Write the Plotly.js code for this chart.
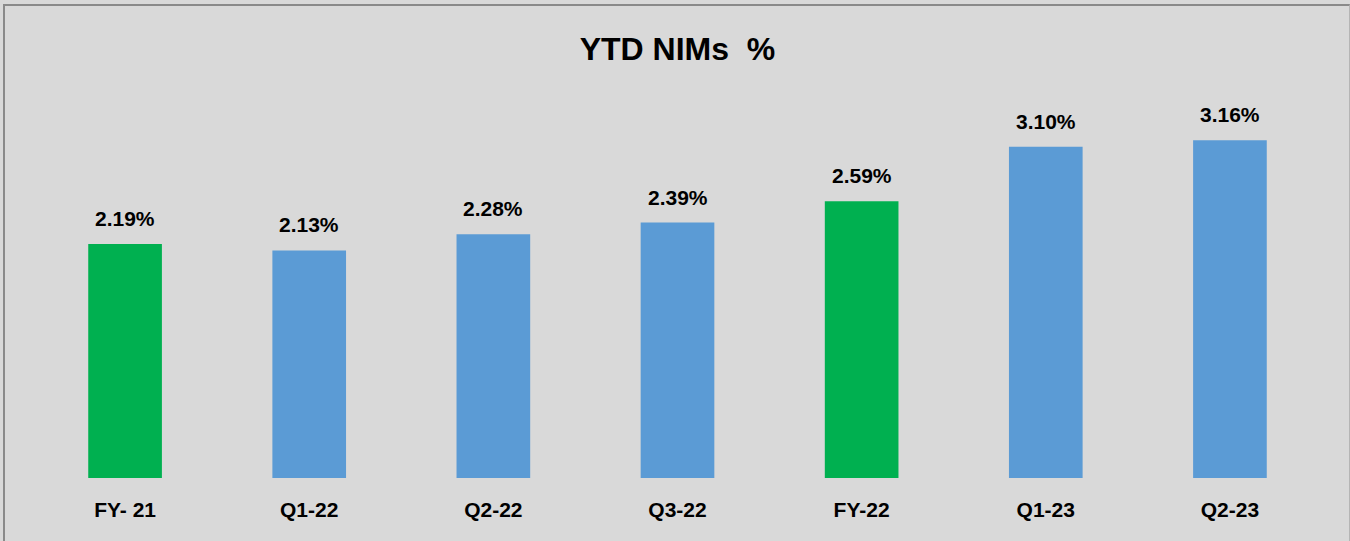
<!DOCTYPE html>
<html>
<head>
<meta charset="utf-8">
<script src="https://cdn.plot.ly/plotly-3.0.1.min.js"></script>
<style>
  html, body { margin: 0; padding: 0; background: #d9d9d9; }
  #wrap { position: relative; width: 1350px; height: 541px; overflow: hidden; }
  #chart { position: absolute; left: 0; top: 0; width: 1350px; height: 541px; }
  #frame { position: absolute; left: 3px; top: 4px; width: 1344px; height: 545px;
           border-top: 2px solid #8a8a8a; border-left: 2px solid #8a8a8a; border-right: 1px solid #b5b5b5;
           pointer-events: none; }
</style>
</head>
<body>
<div id="wrap">
  <div id="chart"></div>
  <div id="frame"></div>
</div>
<script>
const categories = ["FY- 21", "Q1-22", "Q2-22", "Q3-22", "FY-22", "Q1-23", "Q2-23"];
const nimValues = [2.19, 2.13, 2.28, 2.39, 2.59, 3.10, 3.16];
const valueLabels = ["2.19%", "2.13%", "2.28%", "2.39%", "2.59%", "3.10%", "3.16%"];
const isFullYear = [true, false, false, false, true, false, false];

const GREEN = "#00b050";
const BLUE = "#5b9bd5";
const FONT = "Liberation Sans, Arial, sans-serif";

const trace = {
  type: "bar",
  x: categories,
  y: nimValues,
  marker: { color: isFullYear.map(f => f ? GREEN : BLUE) },
  hoverinfo: "skip"
};

const annotations = categories.map((c, i) => ({
  x: c, y: nimValues[i], xref: "x", yref: "y",
  text: "<b>" + valueLabels[i] + "</b>",
  showarrow: false, yanchor: "bottom", yshift: 12,
  font: { family: FONT, size: 21, color: "#000" }
}));

const layout = {
  width: 1350, height: 541,
  paper_bgcolor: "#d9d9d9", plot_bgcolor: "#d9d9d9",
  margin: { l: 33, r: 28, t: 104, b: 63 },
  bargap: 0.6,
  showlegend: false,
  title: {
    text: "<b>YTD NIMs  %</b>",
    x: 0.5, xref: "paper", xanchor: "center",
    y: 1 - 49 / 541, yref: "container", yanchor: "middle",
    font: { family: FONT, size: 32, color: "#000" }
  },
  xaxis: {
    type: "category",
    showgrid: false, zeroline: false, showline: false,
    ticks: "outside", ticklen: 13, tickcolor: "rgba(0,0,0,0)",
    tickfont: { family: FONT, size: 21, color: "#000" },
    tickprefix: "<b>", ticksuffix: "</b>",
    fixedrange: true
  },
  yaxis: {
    range: [0, 3.5],
    visible: false, showgrid: false, zeroline: false,
    fixedrange: true
  },
  annotations: annotations
};

Plotly.newPlot("chart", [trace], layout, { displayModeBar: false, staticPlot: true });
</script>
</body>
</html>
